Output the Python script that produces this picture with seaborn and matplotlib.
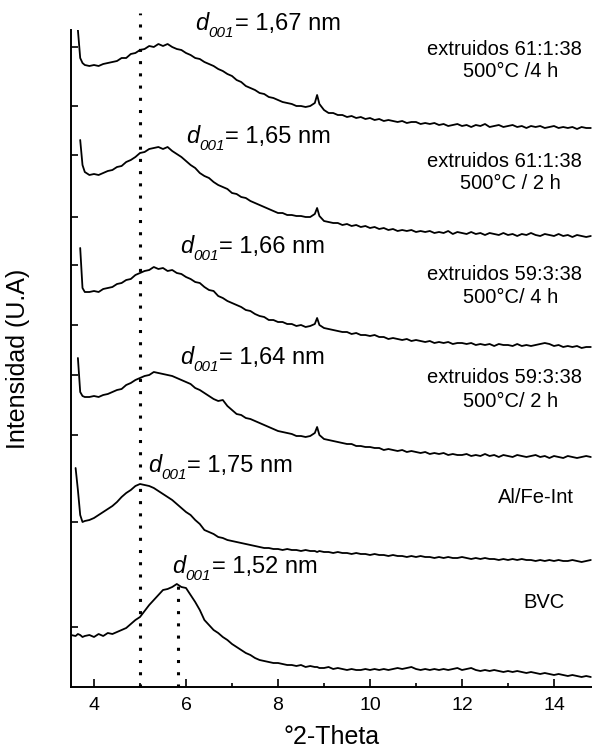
import numpy as np
import pandas as pd
import matplotlib
matplotlib.use('Agg')
import matplotlib.pyplot as plt
import seaborn as sns

nan = np.nan

# 2-theta sampling positions (degrees)
two_theta = [3.5, 3.6, 3.65, 3.7, 3.75, 3.8,
             3.9, 4.0, 4.1, 4.2, 4.3, 4.4, 4.5, 4.6, 4.7, 4.8, 4.9,
             5.0, 5.1, 5.2, 5.3, 5.4, 5.5, 5.6, 5.7, 5.8, 5.9,
             6.0, 6.1, 6.2, 6.3, 6.4, 6.5, 6.6, 6.7, 6.8, 6.9,
             7.0, 7.1, 7.2, 7.3, 7.4, 7.5, 7.6, 7.7, 7.8, 7.9,
             8.0, 8.1, 8.2, 8.3, 8.4, 8.5, 8.6, 8.7, 8.8, 8.85, 8.9,
             9.0, 9.1, 9.2, 9.3, 9.4, 9.5, 9.6, 9.7, 9.8, 9.9,
             10.0, 10.1, 10.2, 10.3, 10.4, 10.5, 10.6, 10.7, 10.8, 10.9,
             11.0, 11.1, 11.2, 11.3, 11.4, 11.5, 11.6, 11.7, 11.8, 11.9,
             12.0, 12.1, 12.2, 12.3, 12.4, 12.5, 12.6, 12.7, 12.8, 12.9,
             13.0, 13.1, 13.2, 13.3, 13.4, 13.5, 13.6, 13.7, 13.8, 13.9,
             14.0, 14.1, 14.2, 14.3, 14.4, 14.5, 14.6, 14.7, 14.8]

# intensities (a.u.), each pattern read relative to its own tail
ext_61_4h = [nan, nan, 100, 72, 67, 65,
             64, 65, 64, 66, 67, 68, 69, 72, 72, 76, 77,
             80, 81, 84, 83, 86, 84, 86, 83, 81, 80,
             77, 75, 72, 71, 68, 66, 64, 61, 59, 56,
             54, 50, 48, 44, 42, 40, 37, 36, 33, 32,
             30, 28, 27, 26, 24, 24, 23, 24, 27, 35, 26,
             20, 17, 17, 15, 15, 13, 14, 12, 13, 11,
             12, 10, 11, 9, 10, 9, 8, 9, 7, 8,
             8, 6, 7, 6, 7, 5, 6, 4, 5, 6,
             4, 5, 3, 5, 4, 6, 3, 4, 5, 3,
             4, 5, 3, 4, 2, 4, 3, 4, 2, 3,
             4, 2, 3, 2, 3, 1, 3, 2, 2]

ext_61_2h = [nan, nan, nan, 100, 75, 68,
             65, 66, 65, 67, 69, 70, 73, 74, 78, 80, 83,
             87, 88, 91, 92, 93, 91, 93, 89, 86, 83,
             79, 75, 72, 67, 64, 62, 58, 55, 53, 51,
             47, 46, 43, 42, 39, 37, 35, 33, 31, 29,
             27, 27, 25, 25, 24, 24, 23, 23, 26, 32, 24,
             19, 18, 17, 17, 15, 16, 14, 15, 13, 14,
             12, 13, 11, 12, 10, 11, 9, 10, 9, 10,
             8, 9, 8, 9, 7, 8, 7, 9, 6, 8,
             7, 6, 8, 6, 7, 5, 7, 6, 5, 7,
             5, 6, 4, 6, 5, 7, 5, 4, 6, 5,
             4, 6, 4, 5, 3, 5, 4, 3, 4]

ext_59_4h = [nan, nan, nan, 102, 62, 58,
             58, 59, 58, 61, 62, 63, 66, 67, 70, 71, 75,
             77, 79, 80, 83, 81, 82, 79, 80, 77, 76,
             73, 71, 68, 67, 63, 60, 59, 54, 52, 49,
             47, 45, 43, 40, 39, 36, 34, 33, 30, 30,
             28, 28, 26, 26, 24, 25, 23, 24, 26, 32, 25,
             22, 21, 20, 19, 18, 18, 16, 17, 15, 15,
             14, 15, 13, 13, 11, 12, 11, 10, 11, 9,
             10, 9, 8, 9, 7, 8, 7, 8, 6, 7,
             7, 6, 7, 5, 6, 5, 6, 4, 6, 5,
             5, 4, 6, 4, 5, 4, 5, 6, 7, 6,
             4, 5, 3, 4, 3, 4, 2, 3, 3]

ext_59_2h = [nan, nan, 102, 68, 64, 63,
             63, 64, 63, 65, 66, 68, 70, 71, 75, 77, 80,
             82, 84, 85, 88, 87, 86, 85, 84, 82, 80,
             78, 76, 72, 70, 67, 64, 61, 59, 60, 54,
             50, 46, 45, 42, 41, 39, 37, 35, 33, 31,
             29, 28, 27, 26, 24, 24, 23, 24, 27, 33, 25,
             21, 20, 19, 18, 17, 16, 16, 14, 14, 13,
             13, 12, 12, 10, 11, 10, 9, 10, 8, 9,
             8, 7, 8, 6, 7, 6, 7, 5, 6, 5,
             5, 6, 4, 5, 4, 6, 4, 5, 3, 5,
             4, 3, 5, 4, 3, 4, 5, 3, 4, 2,
             4, 3, 2, 4, 3, 2, 3, 4, 3]

al_fe_int = [nan, 97, 75, 50, 43, 44,
             45, 47, 50, 53, 56, 59, 63, 68, 72, 75, 79,
             81, 80, 79, 77, 74, 71, 68, 65, 61, 57,
             53, 50, 45, 41, 35, 33, 31, 28, 27, 25,
             24, 23, 22, 21, 20, 19, 18, 17, 17, 16,
             16, 15, 16, 15, 15, 14, 15, 14, 14, 13, 14,
             13, 13, 12, 13, 12, 12, 11, 12, 11, 11,
             10, 11, 10, 10, 9, 10, 9, 9, 8, 9,
             8, 9, 8, 8, 7, 8, 7, 8, 7, 7,
             8, 7, 6, 7, 6, 7, 6, 6, 5, 6,
             5, 6, 5, 6, 5, 5, 4, 5, 4, 5,
             4, 5, 4, 4, 5, 4, 3, 4, 5]

bvc = [45, 44, 46, 45, 43, 44,
       45, 43, 46, 44, 47, 46, 48, 50, 52, 56, 60,
       63, 69, 75, 80, 85, 90, 91, 93, 96, 93,
       92, 85, 78, 70, 60, 55, 50, 47, 43, 40,
       36, 33, 30, 27, 25, 22, 20, 19, 18, 17,
       17, 16, 15, 15, 14, 15, 13, 14, 13, 13, 12,
       12, 13, 11, 12, 11, 10, 11, 10, 10, 11,
       10, 11, 10, 11, 10, 11, 12, 11, 12, 13,
       11, 10, 11, 10, 11, 10, 11, 10, 11, 12,
       10, 11, 12, 10, 9, 10, 9, 10, 9, 8,
       9, 8, 9, 8, 7, 8, 7, 6, 7, 6,
       5, 6, 5, 4, 5, 4, 3, 4, 3]

samples = ['61:1:38 4h', '61:1:38 2h', '59:3:38 4h', '59:3:38 2h', 'Al/Fe-Int', 'BVC']
patterns = [ext_61_4h, ext_61_2h, ext_59_4h, ext_59_2h, al_fe_int, bvc]
stack_offsets = [557, 447, 337, 227, 122, 7]

d001_labels = ['1,67', '1,65', '1,66', '1,64', '1,75', '1,52']
d001_peak_pos = [5.0, 5.83]      # dotted reference lines
bvc_peak_height = 104

ytick_pos = [640, 581, 532, 470, 422, 362, 312, 252, 165, 60]

rows = []
for name, vals, off in zip(samples, patterns, stack_offsets):
    for t, v in zip(two_theta, vals):
        rows.append({'two_theta': t, 'intensity': v + off, 'sample': name})
df = pd.DataFrame(rows).dropna()

sns.set_theme(style='ticks')
plt.rcParams['font.family'] = ['Liberation Sans', 'DejaVu Sans']
plt.rcParams['text.color'] = 'black'
plt.rcParams['axes.labelcolor'] = 'black'
plt.rcParams['xtick.color'] = 'black'
plt.rcParams['ytick.color'] = 'black'

fig = plt.figure(figsize=(5.92, 7.52), dpi=100)
ax = fig.add_axes([71 / 592, 65 / 752, 521 / 592, 657 / 752])

for name in samples:
    sub = df[df['sample'] == name]
    sns.lineplot(data=sub, x='two_theta', y='intensity', ax=ax, color='black',
                 linewidth=1.3, estimator=None, sort=False, legend=False)

# dotted d001 guides
ax.plot([d001_peak_pos[0], d001_peak_pos[0]], [0, 674], color='black',
        linestyle=(0, (1, 3)), linewidth=2.2, clip_on=False)
ax.plot([d001_peak_pos[1], d001_peak_pos[1]], [0, bvc_peak_height - 2], color='black',
        linestyle=(0, (1, 3)), linewidth=2.2)

ax.set_xlim(3.5, 14.826)
ax.set_ylim(0, 657)

renderer = fig.canvas.get_renderer()


def width_pt(t):
    return t.get_window_extent(renderer).width * 72 / fig.dpi


# d001 annotations: italic d, italic lowered subscript, then the value
d_pos = [(6.20, 657), (6.00, 544), (5.87, 434), (5.87, 323), (5.17, 215), (5.70, 114)]
for (x, y), lab in zip(d_pos, d001_labels):
    t1 = ax.text(x, y, 'd', fontsize=17, fontstyle='italic', va='baseline', clip_on=False)
    w1 = width_pt(t1)
    t2 = ax.annotate('001', xy=(x, y), xytext=(w1 + 0.3, -5), textcoords='offset points',
                     fontsize=11, fontstyle='italic', va='baseline', annotation_clip=False)
    w2 = width_pt(t2)
    ax.annotate('= ' + lab + ' nm', xy=(x, y), xytext=(w1 + w2 + 0.6, 0),
                textcoords='offset points', fontsize=17, va='baseline',
                annotation_clip=False)

# sample names
name_lines = [('extruidos 61:1:38', '500°C /4 h', 632, 610),
              ('extruidos 61:1:38', '500°C / 2 h', 520, 498),
              ('extruidos 59:3:38', '500°C/ 4 h', 407, 384),
              ('extruidos 59:3:38', '500°C/ 2 h', 304, 280)]
for l1, l2, y1, y2 in name_lines:
    ax.text(11.23, y1, l1, fontsize=14.5, ha='left', va='baseline')
    ax.text(13.05, y2, l2, fontsize=14.5, ha='center', va='baseline')
ax.text(13.61, 184, 'Al/Fe-Int', fontsize=14.5, ha='center', va='baseline')
ax.text(13.78, 79, 'BVC', fontsize=14.5, ha='center', va='baseline')

ax.set_xticks([4, 6, 8, 10, 12, 14])
ax.set_xticks([5, 7, 9, 11, 13], minor=True)
ax.set_yticks(ytick_pos)
ax.set_yticklabels([])
ax.tick_params(axis='x', which='major', direction='in', length=6, width=1.2,
               labelsize=14, pad=7, colors='black')
ax.tick_params(axis='x', which='minor', direction='in', length=3, width=1.2)
ax.tick_params(axis='y', direction='in', length=5, width=1.2)

for side in ['top', 'right']:
    ax.spines[side].set_visible(False)
for side in ['left', 'bottom']:
    ax.spines[side].set_linewidth(1.4)
    ax.spines[side].set_color('black')

ax.set_xlabel('°2-Theta', fontsize=18)
ax.set_ylabel('Intensidad (U.A)', fontsize=18)
ax.xaxis.set_label_coords(0.5, -0.058)
ax.yaxis.set_label_coords(-0.079, 0.5)

fig.savefig('out.png', dpi=100, facecolor='white')
